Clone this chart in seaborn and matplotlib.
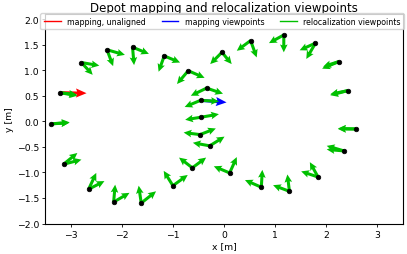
import numpy as np
import pandas as pd
import matplotlib
matplotlib.use("Agg")
import matplotlib.pyplot as plt
import seaborn as sns
from matplotlib.lines import Line2D

# viewpoint positions
px = [-3.21, -2.79, -2.29, -1.79, -1.17, -0.70, -0.34, -0.46, -0.45, -0.47, -0.28,
      -0.62, 0.11, 0.73, 1.28, 1.84, 2.35, 2.58, 2.42, 2.25, 1.79, 1.17, 0.52, -0.04,
      -3.38, -3.14, -2.65, -2.16, -1.62, -1.00]
py = [0.56, 1.15, 1.40, 1.45, 1.28, 0.99, 0.65, 0.41, 0.08, -0.26, -0.48,
      -0.91, -1.01, -1.29, -1.37, -1.09, -0.58, -0.15, 0.60, 1.17, 1.53, 1.69, 1.58, 1.35,
      -0.05, -0.84, -1.33, -1.58, -1.60, -1.26]
# relocalization arrows (two per viewpoint)
u1 = [0.33, 0.35, 0.35, 0.32, 0.31, 0.32, 0.32, 0.36, 0.35, 0.31, 0.29,
      0.27, 0.14, 0.02, -0.04, -0.16, -0.34, -0.35, -0.34, -0.33, -0.31, -0.29, -0.27, -0.23,
      0.36, 0.27, 0.15, 0.03, -0.05, -0.18]
v1 = [-0.04, -0.06, -0.10, -0.13, -0.13, -0.14, -0.11, -0.02, 0.06, 0.12, 0.18,
      0.20, 0.31, 0.34, 0.33, 0.29, 0.10, 0.00, -0.09, -0.14, -0.14, -0.16, -0.20, -0.23,
      0.03, 0.22, 0.32, 0.34, 0.34, 0.29]
u2 = [0.34, 0.22, 0.12, 0.03, -0.11, -0.22, -0.31, -0.31, -0.31, -0.32, -0.33,
      -0.26, -0.31, -0.32, -0.32, -0.33, -0.34, -0.35, -0.34, -0.31, -0.18, 0.00, 0.12, 0.19,
      0.35, 0.35, 0.31, 0.31, 0.29, 0.29]
v2 = [-0.06, -0.24, -0.32, -0.35, -0.31, -0.26, -0.15, -0.13, -0.05, 0.04, 0.06,
      0.20, 0.13, 0.14, 0.12, 0.11, 0.03, 0.01, -0.07, -0.10, -0.31, -0.34, -0.33, -0.23,
      0.02, 0.09, 0.16, 0.18, 0.23, 0.21]
# mapping arrows
red_x, red_y, red_u, red_v = [-3.21], [0.56], [0.52], [-0.01]
blue_x, blue_y, blue_u, blue_v = [-0.46], [0.41], [0.51], [-0.04]

labels = ["mapping, unaligned", "mapping viewpoints", "relocalization viewpoints"]
colors = ["#ff0000", "#0000ff", "#00c000"]

plt.rcParams['font.family'] = ['DejaVu Sans']
fig, ax = plt.subplots(figsize=(4.07, 2.55), dpi=100)

gkw = dict(angles='xy', scale_units='xy', scale=1, width=0.0085, headwidth=2.5,
           headlength=2.6, headaxislength=2.3)
mkw = dict(angles='xy', scale_units='xy', scale=1, width=0.0085, headwidth=3.0,
           headlength=3.5, headaxislength=3.1)
ax.quiver(red_x, red_y, red_u, red_v, color=colors[0], zorder=2, **mkw)
ax.quiver(blue_x, blue_y, blue_u, blue_v, color=colors[1], zorder=2, **mkw)
ax.quiver(px, py, u1, v1, color=colors[2], zorder=3, **gkw)
ax.quiver(px, py, u2, v2, color=colors[2], zorder=3, **gkw)

df = pd.DataFrame({"x": px, "y": py})
sns.scatterplot(data=df, x="x", y="y", ax=ax, color="black", s=11, zorder=4,
                edgecolor="black", linewidth=0.5)

ax.set_xlim(-3.5, 3.5)
ax.set_ylim(-2.0, 2.1)
ax.set_aspect('equal')
ax.set_xticks([-3, -2, -1, 0, 1, 2, 3])
ax.set_yticks([-2.0, -1.5, -1.0, -0.5, 0.0, 0.5, 1.0, 1.5, 2.0])
ax.tick_params(labelsize=6.7, length=2.5, pad=2, width=0.6)
ax.set_xlabel("x [m]", fontsize=6.7, labelpad=2)
ax.set_ylabel("y [m]", fontsize=6.7, labelpad=2)
ax.set_title("Depot mapping and relocalization viewpoints", fontsize=8.5, pad=2.5)
for s in ax.spines.values():
    s.set_linewidth(0.8)

handles = [Line2D([0], [0], color=c, lw=1.0) for c in colors]
ax.legend(handles, labels, loc='upper center', bbox_to_anchor=(0.495, 1.004), ncol=3,
          fontsize=5.7, handlelength=2.1, columnspacing=2.0, borderpad=0.45,
          handletextpad=0.8, framealpha=0.8, borderaxespad=0.0)

fig.subplots_adjust(left=0.1106, right=0.9902, top=0.9412, bottom=0.1196)
fig.savefig("out.png", dpi=100)
